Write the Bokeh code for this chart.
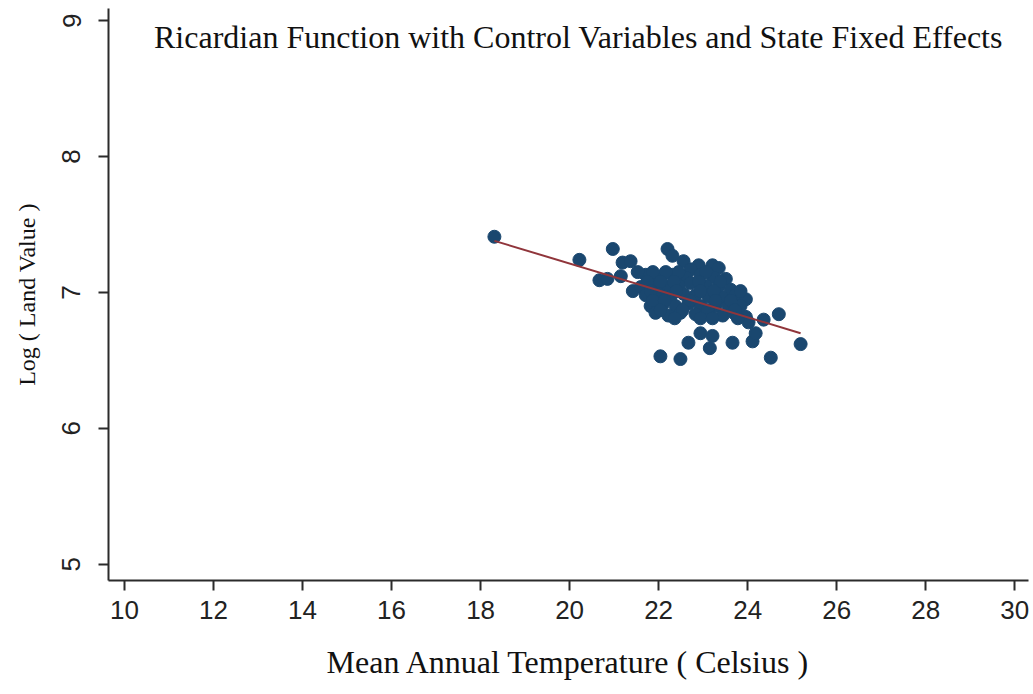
from bokeh.plotting import figure
from bokeh.models import FixedTicker, Label, Range1d
from bokeh.embed import file_html
from bokeh.resources import INLINE

# Mean annual temperature (Celsius) and log land value
temp = [18.31, 20.22, 20.97, 20.67, 20.85, 21.15, 21.19, 21.37, 21.42, 22.20,
        22.31, 22.56, 22.90, 23.21, 23.35, 22.72, 21.71, 22.04, 22.31, 22.61,
        22.94, 23.24, 23.51, 21.60, 21.87, 22.16, 22.45, 22.72, 23.06, 23.35,
        23.62, 21.71, 22.00, 22.27, 22.56, 22.83, 23.12, 23.44, 23.73, 23.96,
        21.82, 22.09, 22.38, 22.67, 22.94, 23.28, 23.57, 23.84, 21.93, 22.22,
        22.49, 22.83, 23.12, 23.44, 23.69, 23.96, 24.02, 24.36, 24.70, 25.19,
        22.04, 22.49, 22.67, 22.94, 23.21, 23.15, 23.66, 24.11, 24.18, 24.52,
        21.53,
        21.87, 22.16, 22.45, 23.06,
        21.75, 22.04, 22.34, 22.90, 23.39,
        21.82, 22.40, 22.94, 23.24, 23.84,
        21.87, 22.13, 22.70, 23.28, 23.62,
        22.04, 22.54, 23.10, 23.71,
        22.36, 22.94, 23.21, 23.78]
log_land = [7.41, 7.24, 7.32, 7.09, 7.10, 7.12, 7.22, 7.23, 7.01, 7.32,
            7.27, 7.23, 7.20, 7.20, 7.18, 7.17, 7.13, 7.11, 7.13, 7.11,
            7.13, 7.11, 7.10, 7.04, 7.06, 7.04, 7.05, 7.07, 7.05, 7.04,
            7.02, 6.98, 6.99, 6.97, 6.99, 6.98, 6.97, 6.96, 6.98, 6.95,
            6.90, 6.91, 6.90, 6.92, 6.90, 6.90, 6.90, 6.90, 6.85, 6.83,
            6.85, 6.84, 6.85, 6.83, 6.85, 6.82, 6.78, 6.80, 6.84, 6.62,
            6.53, 6.51, 6.63, 6.70, 6.68, 6.59, 6.63, 6.64, 6.70, 6.52,
            7.15,
            7.15, 7.15, 7.15, 7.15,
            7.08, 7.08, 7.08, 7.08, 7.08,
            7.01, 7.01, 7.01, 7.01, 7.01,
            6.94, 6.94, 6.94, 6.94, 6.94,
            6.87, 6.87, 6.87, 6.87,
            6.81, 6.81, 6.81, 6.81]

# Fitted line endpoints
fit_x = [18.31, 25.19]
fit_y = [7.38, 6.70]

x_ticks = [10, 12, 14, 16, 18, 20, 22, 24, 26, 28, 30]
y_ticks = [5, 6, 7, 8, 9]

title_text = "Ricardian Function with Control Variables and State Fixed Effects"
x_label = "Mean Annual Temperature ( Celsius )"
y_label = "Log ( Land Value )"

p = figure(width=1030, height=690, output_backend="svg", toolbar_location=None,
           x_range=Range1d(9.64, 30.31), y_range=Range1d(4.88, 9.09),
           min_border_left=108, min_border_right=2, min_border_top=8,
           min_border_bottom=110)
p.outline_line_color = None
p.xgrid.visible = False
p.ygrid.visible = False
p.background_fill_color = "white"
p.border_fill_color = "white"

p.scatter(temp, log_land, marker="circle", size=13, fill_color="#1a476f",
          line_color="#1a476f")
p.line(fit_x, fit_y, line_color="#90353b", line_width=2)

for ax in (p.xaxis[0], p.yaxis[0]):
    ax.axis_line_color = "#2b2b2b"
    ax.axis_line_width = 2
    ax.major_tick_line_color = "#2b2b2b"
    ax.major_tick_line_width = 2
    ax.major_tick_out = 10
    ax.major_tick_in = 0
    ax.minor_tick_line_color = None
    ax.major_label_text_font = "Liberation Sans"
    ax.major_label_text_font_size = "26px"
    ax.major_label_text_color = "#222222"
    ax.axis_label_text_font = "Liberation Serif"
    ax.axis_label_text_font_style = "normal"
    ax.axis_label_text_color = "#111111"

p.xaxis[0].ticker = FixedTicker(ticks=x_ticks)
p.yaxis[0].ticker = FixedTicker(ticks=y_ticks)
p.yaxis[0].major_label_orientation = "vertical"
p.xaxis[0].major_label_standoff = 10
p.yaxis[0].major_label_standoff = 18
p.xaxis[0].axis_label = x_label
p.xaxis[0].axis_label_text_font_size = "32px"
p.xaxis[0].axis_label_standoff = 22
p.yaxis[0].axis_label = y_label
p.yaxis[0].axis_label_text_font_size = "24px"
p.yaxis[0].axis_label_standoff = 20

p.add_layout(Label(x=20.2, y=8.88, text=title_text, text_align="center",
                   text_baseline="middle", text_font="Liberation Serif",
                   text_font_size="32px", text_color="#111111"))

open("out.html", "w").write(file_html(p, INLINE))
